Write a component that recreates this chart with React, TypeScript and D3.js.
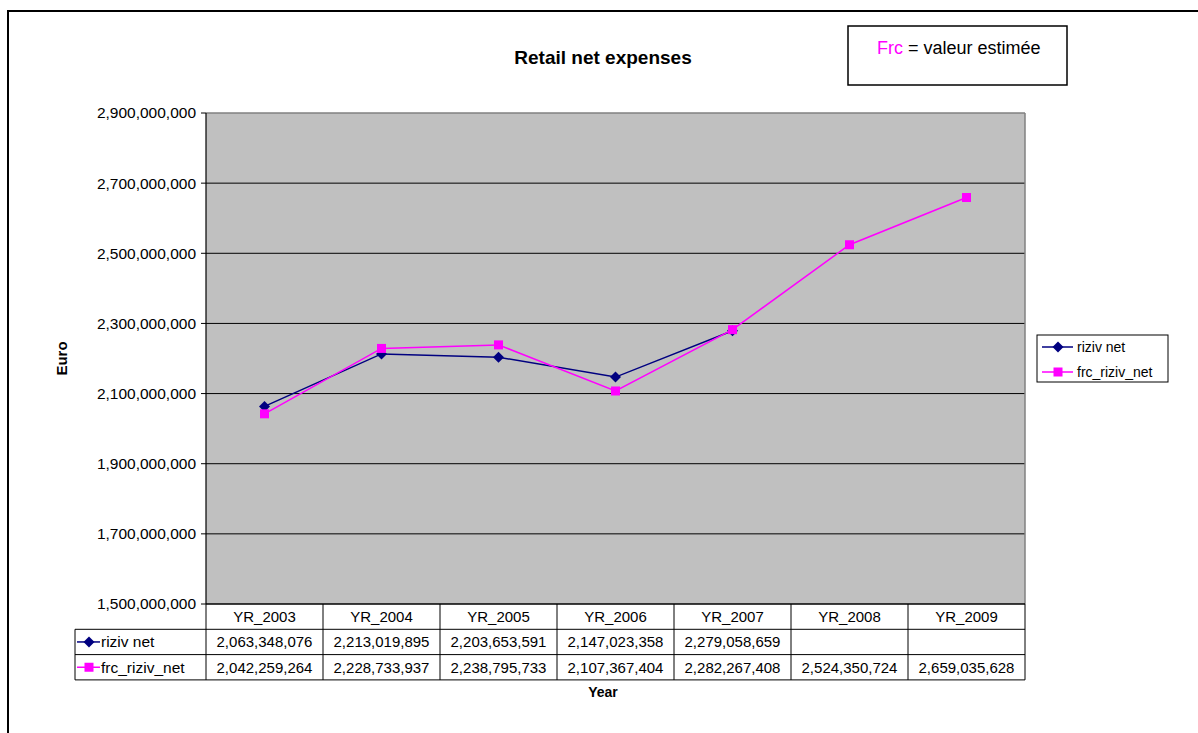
import React from "react";
import * as d3 from "d3";

const categories = ["YR_2003", "YR_2004", "YR_2005", "YR_2006", "YR_2007", "YR_2008", "YR_2009"];
const rizivNet: (number | null)[] = [2063348076, 2213019895, 2203653591, 2147023358, 2279058659, null, null];
const frcRizivNet: (number | null)[] = [2042259264, 2228733937, 2238795733, 2107367404, 2282267408, 2524350724, 2659035628];
const yTicks = [1500000000, 1700000000, 1900000000, 2100000000, 2300000000, 2500000000, 2700000000, 2900000000];

const NAVY = "#000080";
const MAGENTA = "#FF00FF";
const FONT = "'Liberation Sans', Arial, sans-serif";

export default function App() {
  const W = 1198, H = 733;
  const plot = { left: 206, right: 1025, top: 113, bottom: 604 };
  const x = d3.scaleBand<string>().domain(categories).range([plot.left, plot.right]);
  const y = d3.scaleLinear().domain([1500000000, 2900000000]).range([plot.bottom, plot.top]);
  const cx = (c: string) => (x(c) as number) + x.bandwidth() / 2;
  const fmt = d3.format(",");
  const line = d3
    .line<number | null>()
    .defined((d) => d != null)
    .x((_, i) => cx(categories[i]))
    .y((d) => y(d as number));

  const rowH = 25.3;
  const tableLeft = 75;
  const rows = [
    { name: "riziv net", data: rizivNet, color: NAVY, marker: "diamond" },
    { name: "frc_riziv_net", data: frcRizivNet, color: MAGENTA, marker: "square" },
  ];

  const marker = (kind: string, color: string, px: number, py: number, key: string) =>
    kind === "diamond" ? (
      <path key={key} d={`M${px},${py - 5.5}L${px + 5.5},${py}L${px},${py + 5.5}L${px - 5.5},${py}Z`} fill={color} />
    ) : (
      <rect key={key} x={px - 4.5} y={py - 4.5} width={9} height={9} fill={color} />
    );

  return (
    <svg width={W} height={H} style={{ position: "absolute", left: 0, top: 0, background: "#fff" }} fontFamily={FONT}>
      <rect x={8} y={11} width={1220} height={760} fill="#fff" stroke="#000" strokeWidth={2} />
      <text x={603} y={64} textAnchor="middle" fontWeight="bold" fontSize={19}>
        Retail net expenses
      </text>
      <rect x={848} y={26} width={219} height={59} fill="#fff" stroke="#000" strokeWidth={1.5} />
      <text x={877} y={54} fontSize={18}>
        <tspan fill={MAGENTA}>Frc</tspan>
        <tspan fill="#000"> = valeur estimée</tspan>
      </text>

      {/* plot area */}
      <rect x={plot.left} y={plot.top} width={plot.right - plot.left} height={plot.bottom - plot.top} fill="#C0C0C0" />
      {yTicks.slice(1, -1).map((t) => (
        <line key={t} x1={plot.left} x2={plot.right} y1={y(t)} y2={y(t)} stroke="#000" strokeWidth={1} />
      ))}
      <line x1={plot.left} x2={plot.right} y1={plot.top} y2={plot.top} stroke="#808080" strokeWidth={1.5} />
      <line x1={plot.right} x2={plot.right} y1={plot.top} y2={plot.bottom} stroke="#808080" strokeWidth={1.5} />
      <line x1={plot.left} x2={plot.left} y1={plot.top} y2={plot.bottom} stroke="#000" strokeWidth={1.2} />
      {yTicks.map((t) => (
        <g key={t}>
          <line x1={plot.left - 5} x2={plot.left} y1={y(t)} y2={y(t)} stroke="#000" />
          <text x={plot.left - 10} y={y(t)} dy="0.35em" textAnchor="end" fontSize={15.5}>
            {fmt(t)}
          </text>
        </g>
      ))}
      <text transform={`translate(67,${(plot.top + plot.bottom) / 2}) rotate(-90)`} textAnchor="middle" fontWeight="bold" fontSize={15}>
        Euro
      </text>

      {/* series */}
      {rows.map((r) => (
        <g key={r.name}>
          <path d={line(r.data) || ""} fill="none" stroke={r.color} strokeWidth={1.5} />
          {r.data.map((v, i) => (v == null ? null : marker(r.marker, r.color, cx(categories[i]), y(v), r.name + i)))}
        </g>
      ))}

      {/* data table */}
      <g fontSize={15}>
        {categories.map((c) => (
          <text key={c} x={cx(c)} y={plot.bottom + rowH / 2} dy="0.35em" textAnchor="middle">
            {c}
          </text>
        ))}
        {rows.map((r, ri) => {
          const ry = plot.bottom + rowH * (ri + 1);
          return (
            <g key={r.name}>
              <line x1={tableLeft + 2} x2={tableLeft + 25} y1={ry + rowH / 2} y2={ry + rowH / 2} stroke={r.color} strokeWidth={1.5} />
              {marker(r.marker, r.color, tableLeft + 14, ry + rowH / 2, "tm" + ri)}
              <text x={tableLeft + 26} y={ry + rowH / 2} dy="0.35em" fontSize={15.5}>
                {r.name}
              </text>
              {r.data.map((v, i) =>
                v == null ? null : (
                  <text key={i} x={cx(categories[i])} y={ry + rowH / 2} dy="0.35em" textAnchor="middle">
                    {fmt(v)}
                  </text>
                )
              )}
            </g>
          );
        })}
        <line x1={plot.left} x2={plot.right} y1={plot.bottom} y2={plot.bottom} stroke="#000" strokeWidth={1.5} />
        {[1, 2, 3].map((k) => (
          <line key={k} x1={tableLeft} x2={plot.right} y1={plot.bottom + rowH * k} y2={plot.bottom + rowH * k} stroke="#000" strokeWidth={1} />
        ))}
        <line x1={tableLeft} x2={tableLeft} y1={plot.bottom + rowH} y2={plot.bottom + rowH * 3} stroke="#000" />
        {categories.map((c) => (
          <line key={c} x1={x(c) as number} x2={x(c) as number} y1={plot.bottom} y2={plot.bottom + rowH * 3} stroke="#000" />
        ))}
        <line x1={plot.right} x2={plot.right} y1={plot.bottom} y2={plot.bottom + rowH * 3} stroke="#000" />
      </g>
      <text x={603} y={697} textAnchor="middle" fontWeight="bold" fontSize={14}>
        Year
      </text>

      {/* legend */}
      <rect x={1037} y={335} width={131} height={47} fill="#fff" stroke="#000" strokeWidth={1} />
      {rows.map((r, i) => {
        const ly = 347 + i * 25;
        return (
          <g key={r.name}>
            <line x1={1042} x2={1073} y1={ly} y2={ly} stroke={r.color} strokeWidth={1.5} />
            {marker(r.marker, r.color, 1058, ly, "lm" + i)}
            <text x={1077} y={ly} dy="0.35em" fontSize={14}>
              {r.name}
            </text>
          </g>
        );
      })}
    </svg>
  );
}
